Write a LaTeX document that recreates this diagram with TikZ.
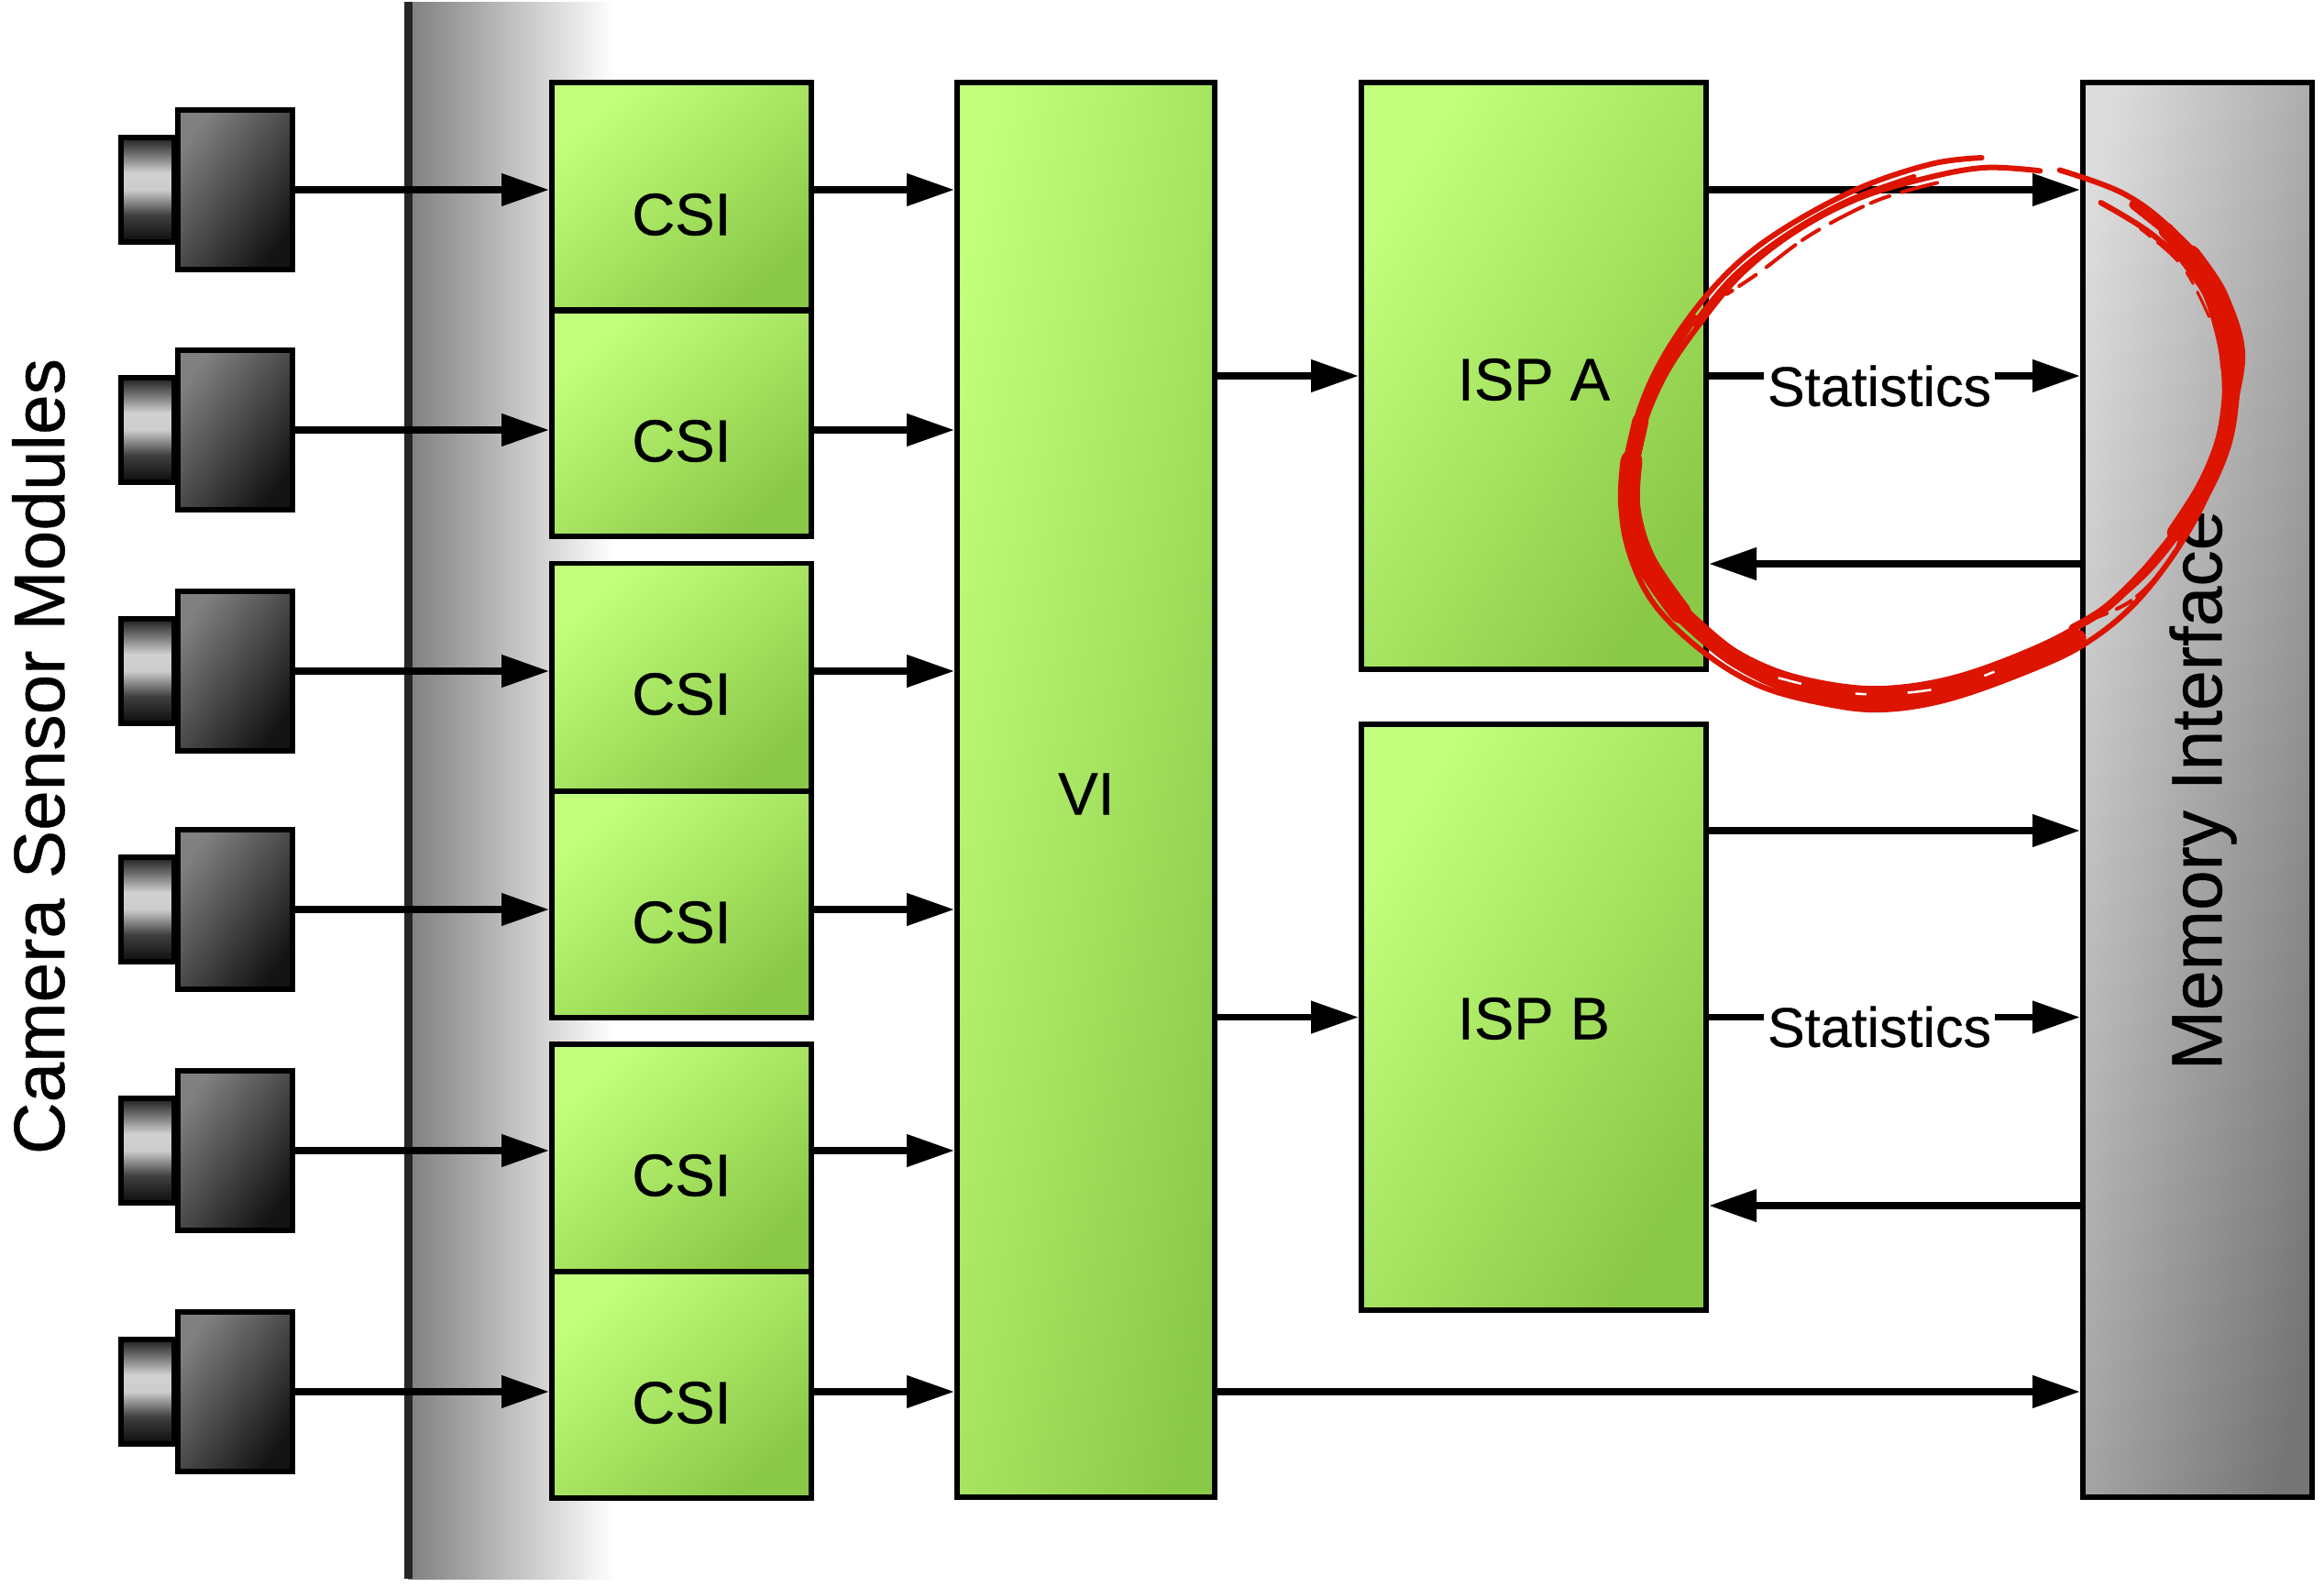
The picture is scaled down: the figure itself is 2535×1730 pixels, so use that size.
\documentclass[tikz,border=0pt]{standalone}
\usepackage{fontspec}
\setmainfont[FakeBold=0.5]{Liberation Sans}
\usetikzlibrary{arrows.meta,calc}
\definecolor{gA}{HTML}{C2FF7C}
\definecolor{gB}{HTML}{8AC947}
\definecolor{redink}{HTML}{DC1400}
\pgfdeclareverticalshading{lensshade}{100bp}{color(0bp)=(black);color(22bp)=(black);color(38bp)=(black!75);color(50bp)=(black!20);color(58bp)=(black!18);color(68bp)=(black!60);color(78bp)=(black);color(100bp)=(black)}
\tikzset{
  x=1pt,y=-1pt,
  greenbox/.style={draw=black,line width=5.5pt,shading=axis,top color=gA,bottom color=gB,shading angle=41,minimum width=#1,inner sep=0pt,outer sep=0pt},
  greenbox/.default=283pt,
  body/.style={draw=black,line width=6pt,shading=axis,top color=black!50,bottom color=black!92,shading angle=54,minimum width=125pt,minimum height=174pt,inner sep=0pt},
  lens/.style={draw=black,line width=6pt,shading=lensshade,minimum width=58pt,minimum height=114pt,inner sep=0pt},
  wire/.style={draw=black,line width=7.5pt},
  arrowline/.style={wire,-{Triangle[length=52pt,width=34pt]}},
  boxlabel/.style={font=\fontsize{65}{70}\selectfont,inner sep=0pt},
  biglabel/.style={font=\fontsize{78.5}{84}\selectfont,inner sep=0pt,rotate=90},
  statlabel/.style={font=\fontsize{61}{66}\selectfont,fill=white,inner xsep=4pt,inner ysep=2pt},
  ink/.style={draw=redink,line cap=round,line join=round},
}
\begin{document}
\begin{tikzpicture}
\useasboundingbox (0,0) rectangle (2535,1730);
% fading band
\shade[left color=black!50,right color=white,shading=axis] (445,2) rectangle (670,1722);
\fill[black!85] (441,2) rectangle (450,1722);

% cameras
\foreach \i/\yy in {1/207,2/469,3/732,4/992,5/1255,6/1518}{
  \node[lens] (lens\i) at (161,\yy) {};
  \node[body] (cam\i) at (256.5,\yy) {};
}

% CSI
\node[greenbox,minimum height=248pt] (csi1) at (743.5,214) {};
\node[greenbox,minimum height=246pt] (csi2) at (743.5,462) {};
\node[greenbox,minimum height=248pt] (csi3) at (743.5,738.5) {};
\node[greenbox,minimum height=247pt] (csi4) at (743.5,986.5) {};
\node[greenbox,minimum height=248pt] (csi5) at (743.5,1263) {};
\node[greenbox,minimum height=247pt] (csi6) at (743.5,1510.5) {};
\node[boxlabel] (tcsi1) at (743.5,234) {CSI};
\node[boxlabel] (tcsi2) at (743.5,481) {CSI};
\node[boxlabel] (tcsi3) at (743.5,757) {CSI};
\node[boxlabel] (tcsi4) at (743.5,1006) {CSI};
\node[boxlabel] (tcsi5) at (743.5,1282) {CSI};
\node[boxlabel] (tcsi6) at (743.5,1530) {CSI};

% VI and ISPs
\node[greenbox=281pt,minimum height=1543pt,shading angle=79.6] (vi) at (1184.5,861.5) {};
\node[boxlabel] (tvi) at (1185,866) {VI};
\node[greenbox=376pt,minimum height=640pt,shading angle=59.5] (ispa) at (1673,410) {};
\node[boxlabel] (tispa) at (1673,414) {ISP A};
\node[greenbox=376pt,minimum height=639pt,shading angle=59.5] (ispb) at (1673,1109.5) {};
\node[boxlabel] (tispb) at (1673,1111) {ISP B};

% memory
\node[draw=black,line width=5.5pt,shading=axis,top color=black!14,bottom color=black!54,shading angle=79.6,minimum width=250pt,minimum height=1543pt,inner sep=0pt,outer sep=0pt] (mem) at (2397,861.5) {};
\node[biglabel] (tmem) at (2403,862) {Memory Interface};
\node[biglabel] (tcam) at (42,825) {Camera Sensor Modules};

% connectors
\foreach \i/\c in {1/csi1,2/csi2,3/csi3,4/csi4,5/csi5,6/csi6}{
  \draw[arrowline] (cam\i.east) -- ([xshift=-3pt]cam\i.east -| \c.west);
  \draw[arrowline] (cam\i.east -| \c.east) -- ([xshift=-3pt]cam\i.east -| vi.west);
}
\draw[arrowline] (vi.east |- ispa.west) -- ([xshift=-3pt]ispa.west);
\draw[arrowline] (vi.east |- ispb.west) -- ([xshift=-3pt]ispb.west);
\draw[arrowline] (cam6.east -| vi.east) -- ([xshift=-3pt]cam6.east -| mem.west);
\coordinate (a1) at (0,207);
\coordinate (a3) at (0,615);
\coordinate (b1) at (0,906);
\coordinate (b3) at (0,1315);
\draw[arrowline] (a1 -| ispa.east) -- ([xshift=-3pt]a1 -| mem.west);
\draw[arrowline] (ispa.east) -- ([xshift=-3pt]ispa.east -| mem.west);
\draw[arrowline] (a3 -| mem.west) -- ([xshift=3pt]a3 -| ispa.east);
\draw[arrowline] (b1 -| ispb.east) -- ([xshift=-3pt]b1 -| mem.west);
\draw[arrowline] (ispb.east) -- ([xshift=-3pt]ispb.east -| mem.west);
\draw[arrowline] (b3 -| mem.west) -- ([xshift=3pt]b3 -| ispb.east);
\node[statlabel] (stata) at (2050,421) {Statistics};
\node[statlabel] (statb) at (2050,1120) {Statistics};

% red hand-drawn circle
\begin{scope}[shift={(1700,130)},xscale=.51,yscale=.4337]
  \draw[ink,line width=6pt] plot[smooth,tension=.6] coordinates {(905,97)(800,112)(650,170)(500,262)(385,360)(285,490)(205,640)(158,790)(135,950)(150,1085)(205,1220)(310,1340)(430,1425)(570,1470)(690,1485)(830,1460)(1000,1390)(1125,1320)(1235,1215)(1335,1060)(1405,895)(1450,700)(1460,560)(1405,400)(1305,270)(1205,185)(1072,128)};
  \draw[ink,line width=6pt] plot[smooth,tension=.6] coordinates {(1030,130)(910,122)(780,150)(640,200)(510,280)(395,385)(305,510)(225,650)(175,800)(160,950)(185,1075)(240,1195)(335,1305)(460,1385)(600,1425)(720,1430)(860,1400)(1020,1330)(1130,1260)(1250,1150)(1345,1010)(1415,860)(1425,680)(1410,540)(1365,400)(1270,290)(1160,210)};
  \draw[ink,line width=6pt] plot[smooth,tension=.6] coordinates {(760,145)(620,205)(490,290)(375,395)(290,515)};
  \draw[ink,line width=8pt] plot[smooth,tension=.6] coordinates {(290,500)(235,600)};
  \draw[ink,line width=12pt] plot[smooth,tension=.6] coordinates {(235,600)(190,700)(172,770)};
  \draw[ink,line width=18pt] plot[smooth,tension=.6] coordinates {(175,760)(156,860)};
  \draw[ink,line width=24pt] plot[smooth,tension=.6] coordinates {(156,860)(152,980)(185,1110)(260,1240)};
  \draw[ink,line width=19pt] plot[smooth,tension=.6] coordinates {(260,1240)(370,1350)(500,1425)(640,1455)(760,1450)(900,1415)(1030,1350)(1110,1305)};
  \draw[ink,line width=10pt] plot[smooth,tension=.6] coordinates {(1230,215)(1310,290)};
  \draw[ink,line width=17pt] plot[smooth,tension=.6] coordinates {(1300,280)(1355,350)};
  \draw[ink,line width=25pt] plot[smooth,tension=.6] coordinates {(1350,345)(1405,440)(1432,540)(1440,620)};
  \draw[ink,line width=19pt] plot[smooth,tension=.6] coordinates {(1440,620)(1436,720)(1420,820)(1380,930)(1320,1040)};
  \draw[ink,line width=9pt] plot[smooth,tension=.6] coordinates {(1320,1040)(1250,1140)(1170,1230)(1100,1280)};
  \draw[ink,line width=4pt,dash pattern=on 40pt off 14pt on 22pt off 9pt] plot[smooth,tension=.6] coordinates {(810,160)(680,205)(540,290)(430,385)(360,440)};
  \draw[ink,line width=3pt,dash pattern=on 30pt off 16pt on 14pt off 10pt] plot[smooth,tension=.6] coordinates {(1170,215)(1260,290)(1340,380)(1400,520)};
  \draw[ink,line width=4pt,dash pattern=on 34pt off 12pt on 18pt off 8pt] plot[smooth,tension=.6] coordinates {(1110,1270)(1220,1215)(1300,1120)(1350,1010)};
  \draw[white,line width=2.5pt,dash pattern=on 26pt off 60pt on 12pt off 45pt] plot[smooth,tension=.6] coordinates {(470,1405)(600,1440)(720,1445)(860,1420)(980,1365)};
\end{scope}
\end{tikzpicture}
\end{document}
